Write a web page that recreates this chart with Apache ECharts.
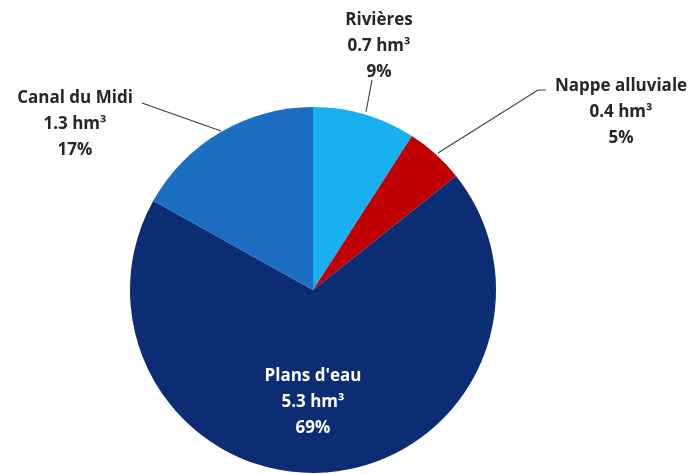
<!DOCTYPE html>
<html><head><meta charset="utf-8">
<script src="https://cdn.jsdelivr.net/npm/echarts@6/dist/echarts.min.js"></script>
<style>html,body{margin:0;padding:0;background:#fff}#c{width:693px;height:474px}</style>
</head><body><div id="c"></div>
<script>
const categories = ["Rivières", "Nappe alluviale", "Plans d'eau", "Canal du Midi"];
const volumes = [0.7, 0.4, 5.3, 1.3];
const percents = [9, 5, 69, 17];
const colors = ["#19b0ef", "#c00000", "#0c2c74", "#1b6ec2"];

const labelPos = [
  {x: 379, y: 46, line: [[366, 112], [372, 80]]},
  {x: 621, y: 112, line: [[438, 153], [538, 90], [546, 90]]},
  {x: 313, y: 402, line: null},
  {x: 75, y: 124, line: [[221, 131], [142, 103]]}
];

const chart = echarts.init(document.getElementById('c'));
chart.setOption({
  animation: false,
  series: [{
    type: 'pie',
    center: [313, 290],
    radius: [0, 183],
    startAngle: 90,
    clockwise: true,
    data: categories.map((n, i) => ({
      name: n, value: volumes[i],
      itemStyle: {color: colors[i]},
      label: {color: i === 2 ? '#ffffff' : '#262626'}
    })),
    itemStyle: {borderWidth: 0},
    label: {
      show: true,
      position: 'outside',
      fontFamily: 'Open Sans',
      fontWeight: 'bold',
      fontSize: 17,
      lineHeight: 26,
      align: 'center',
      formatter: p => p.name + '\n' + volumes[p.dataIndex] + ' hm³\n' + percents[p.dataIndex] + '%'
    },
    labelLine: {show: true, lineStyle: {color: '#404040', width: 1.2}, length: 10, length2: 10},
    labelLayout: function (params) {
      const lp = labelPos[params.dataIndex];
      const r = {x: lp.x, y: lp.y, align: 'center', verticalAlign: 'middle'};
      if (lp.line) r.labelLinePoints = lp.line;
      return r;
    }
  }]
});
</script></body></html>
